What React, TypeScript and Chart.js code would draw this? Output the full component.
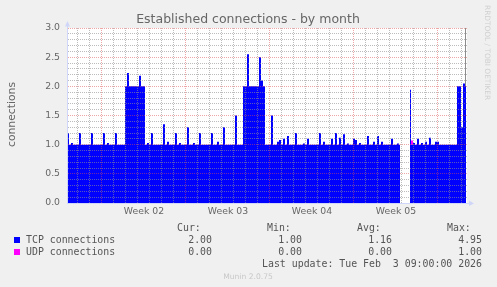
import { useEffect, useRef } from 'react';
import { Chart, registerables } from 'chart.js';

Chart.register(...registerables);

const chartTitle = 'Established connections - by month';
const yAxisTitle = 'connections';
const sideText = 'RRDTOOL / TOBI OETIKER';
const footerText = 'Munin 2.0.75';
const lastUpdate = 'Last update: Tue Feb  3 09:00:00 2026';

// one sample every 4 hours, 200 samples
const hoursPerSample = 4;
const tcpValues: (number | null)[] = [
  1.2, 1, 1.03, 1, 1, 1, 1.2, 1, 1, 1, 1, 1, 1.2, 1, 1, 1, 1, 1, 1.2, 1,
  1.03, 1, 1, 1, 1.2, 1, 1, 1, 1, 2, 2.23, 2, 2, 2, 2, 2, 2.18, 2, 2, 1,
  1.03, 1, 1.2, 1, 1, 1, 1, 1, 1.35, 1, 1.05, 1, 1, 1, 1.2, 1, 1.03, 1, 1, 1,
  1.3, 1, 1, 1.03, 1, 1, 1.2, 1, 1, 1, 1, 1, 1.2, 1, 1, 1.05, 1, 1, 1.3, 1,
  1, 1, 1, 1, 1.5, 1, 1, 1, 2, 2, 2.55, 2, 2, 2, 2, 2, 2.5, 2.1, 2, 1,
  1, 1, 1.5, 1, 1, 1.05, 1.08, 1, 1.1, 1, 1.15, 1, 1, 1, 1.2, 1, 1, 1, 1.02, 1,
  1.1, 1, 1, 1, 1, 1, 1.2, 1, 1.05, 1, 1, 1, 1.1, 1, 1.2, 1, 1.12, 1, 1.18, 1,
  1.02, 1, 1, 1.1, 1.08, 1, 1.03, 1, 1, 1, 1.15, 1, 1, 1.05, 1, 1.15, 1, 1.05, 1, 1,
  1, 1, 1.1, 1, 1, 1.02, 1, null, null, null, null, 1.94, 1, 1.03, 1, 1.1, 1, 1.03, 1, 1.05,
  1, 1.12, 1, 1, 1.05, 1.05, 1, 1, 1, 1, 1, 1, 1, 1, 1, 2, 2, 1.3, 2.05, 2,
];
const udpValues: (number | null)[] = [
  0, 0, 0, 0, 0, 0, 0, 0, 0, 0, 0, 0, 0, 0, 0, 0, 0, 0, 0, 0,
  0, 0, 0, 0, 0, 0, 0, 0, 0, 0, 0, 0, 0, 0, 0, 0, 0, 0, 0, 0,
  0, 0, 0, 0, 0, 0, 0, 0, 0, 0, 0, 0, 0, 0, 0, 0, 0, 0, 0, 0,
  0, 0, 0, 0, 0, 0, 0, 0, 0, 0, 0, 0, 0, 0, 0, 0, 0, 0, 0, 0,
  0, 0, 0, 0, 0, 0, 0, 0, 0, 0, 0, 0, 0, 0, 0, 0, 0, 0, 0, 0,
  0, 0, 0, 0, 0, 0, 0, 0, 0, 0, 0, 0, 0, 0, 0, 0, 0, 0, 0, 0,
  0, 0, 0, 0, 0, 0, 0, 0, 0, 0, 0, 0, 0, 0, 0, 0, 0, 0, 0, 0,
  0, 0, 0, 0, 0, 0, 0, 0, 0, 0, 0, 0, 0, 0, 0, 0, 0, 0, 0, 0,
  0, 0, 0, 0, 0, 0, 0, null, null, null, null, 0, 0.07, 0, 0, 0, 0, 0, 0, 0,
  0, 0, 0, 0, 0, 0, 0, 0, 0, 0, 0, 0, 0, 0, 0, 0, 0, 0, 0, 0,
];

const seriesNames = ['TCP connections', 'UDP connections'];
const seriesColors = ['#0000ff', '#ff00ff'];
const statHeaders = ['Cur:', 'Min:', 'Avg:', 'Max:'];
const curValues = ['2.00', '0.00'];
const minValues = ['1.00', '0.00'];
const avgValues = ['1.16', '0.00'];
const maxValues = ['4.95', '1.00'];

const weekLabels = ['Week 02', 'Week 03', 'Week 04', 'Week 05'];
const weekLabelHours = [154, 322, 490, 658];
const weekStartHours = [68, 236, 404, 572, 740];
const firstDayLineHour = 20;
const xMaxHours = 800;
const yMax = 3;

const FONT = '#666666';
const AXIS = '#cfd6f8';
const GRID = 'rgba(143,143,143,0.6)';
const MGRID = 'rgba(222,79,79,0.5)';

export default function App() {
  const ref = useRef<HTMLCanvasElement | null>(null);

  useEffect(() => {
    document.body.style.margin = '0';
    document.body.style.background = '#f0f0f0';
    const canvas = ref.current;
    if (!canvas) return;

    const tcpData = tcpValues.map((v, i) => ({ x: i * hoursPerSample + 2, y: v }));
    const udpData = udpValues.map((v, i) => ({ x: i * hoursPerSample + 2, y: v }));

    const decor = {
      id: 'decor',
      beforeDraw(chart: any) {
        const { ctx, chartArea: a } = chart;
        ctx.save();
        ctx.fillStyle = '#f0f0f0';
        ctx.fillRect(0, 0, chart.width, chart.height);
        ctx.fillStyle = '#ffffff';
        ctx.fillRect(a.left, a.top, a.right - a.left, a.bottom - a.top);
        ctx.restore();
      },
      beforeDatasetsDraw(chart: any) {
        const { ctx, chartArea: a } = chart;
        ctx.save();
        ctx.strokeStyle = '#8c8c8c';
        ctx.lineWidth = 1;
        ctx.beginPath();
        ctx.moveTo(a.right - 1.5, a.top);
        ctx.lineTo(a.right - 1.5, a.bottom);
        ctx.stroke();
        ctx.restore();
      },
      afterDraw(chart: any) {
        const { ctx, chartArea: a } = chart;
        ctx.save();
        // axis extensions + arrows
        ctx.strokeStyle = AXIS;
        ctx.fillStyle = AXIS;
        ctx.lineWidth = 1;
        ctx.beginPath();
        ctx.moveTo(a.left + 0.5, a.top);
        ctx.lineTo(a.left + 0.5, a.top - 3);
        ctx.moveTo(a.right, a.bottom + 0.5);
        ctx.lineTo(a.right + 3, a.bottom + 0.5);
        ctx.stroke();
        ctx.beginPath();
        ctx.moveTo(a.left - 2, a.top - 1.5);
        ctx.lineTo(a.left + 3, a.top - 1.5);
        ctx.lineTo(a.left + 0.5, a.top - 7);
        ctx.closePath();
        ctx.fill();
        ctx.beginPath();
        ctx.moveTo(a.right + 2, a.bottom - 2.5);
        ctx.lineTo(a.right + 2, a.bottom + 3);
        ctx.lineTo(a.right + 7, a.bottom + 0.5);
        ctx.closePath();
        ctx.fill();

        // title
        ctx.fillStyle = FONT;
        ctx.font = '12.5px "DejaVu Sans"';
        ctx.textAlign = 'center';
        ctx.textBaseline = 'alphabetic';
        ctx.fillText(chartTitle, 248, 23);

        // y axis title
        ctx.save();
        ctx.translate(15, 114.5);
        ctx.rotate(-Math.PI / 2);
        ctx.font = '10.8px "DejaVu Sans"';
        ctx.textAlign = 'center';
        ctx.fillText(yAxisTitle, 0, 0);
        ctx.restore();

        // side text
        ctx.save();
        ctx.translate(485, 5);
        ctx.rotate(Math.PI / 2);
        ctx.font = '7.4px "DejaVu Sans"';
        ctx.fillStyle = '#d0d0d0';
        ctx.textAlign = 'left';
        ctx.fillText(sideText, 0, 0);
        ctx.restore();

        // legend
        ctx.font = '9.9px "DejaVu Sans Mono"';
        ctx.fillStyle = '#555555';
        ctx.textAlign = 'left';
        const headerX = [177, 267, 357, 447];
        statHeaders.forEach((h, k) => ctx.fillText(h, headerX[k], 231));
        const valueX = [212, 302, 392, 482];
        const rowsY = [243, 255];
        seriesNames.forEach((name, r) => {
          ctx.fillStyle = seriesColors[r];
          ctx.fillRect(14, rowsY[r] - 6, 6, 6);
          ctx.fillStyle = '#555555';
          ctx.textAlign = 'left';
          ctx.fillText(name, 26, rowsY[r]);
          ctx.textAlign = 'right';
          const vals = [curValues[r], minValues[r], avgValues[r], maxValues[r]];
          vals.forEach((v, k) => ctx.fillText(v, valueX[k], rowsY[r]));
        });
        ctx.textAlign = 'right';
        ctx.fillText(lastUpdate, 482, 267);

        ctx.font = '7.6px "DejaVu Sans"';
        ctx.fillStyle = '#c8c8c8';
        ctx.textAlign = 'center';
        ctx.fillText(footerText, 248, 279);
        ctx.restore();
      },
    };

    const chart = new Chart(canvas, {
      type: 'line',
      data: {
        datasets: [
          {
            label: seriesNames[0],
            data: tcpData as any,
            backgroundColor: seriesColors[0],
            borderColor: seriesColors[0],
            borderWidth: 0,
            pointRadius: 0,
            fill: 'origin',
            stepped: 'middle',
            spanGaps: false,
          },
          {
            label: seriesNames[1],
            data: udpData as any,
            backgroundColor: seriesColors[1],
            borderColor: seriesColors[1],
            borderWidth: 0,
            pointRadius: 0,
            fill: '-1',
            stepped: 'middle',
            spanGaps: false,
          },
        ],
      },
      options: {
        responsive: false,
        animation: false,
        devicePixelRatio: 1,
        events: [],
        layout: { padding: { left: 0, top: 28, right: 30, bottom: 0 } },
        plugins: {
          legend: { display: false },
          title: { display: false },
          tooltip: { enabled: false },
        },
        scales: {
          x: {
            type: 'linear',
            min: 0,
            max: xMaxHours,
            afterFit: (s: any) => { s.height = 84; },
            afterBuildTicks: (s: any) => {
              const t: { value: number }[] = [];
              for (let h = firstDayLineHour; h < xMaxHours; h += 24) t.push({ value: h });
              weekLabelHours.forEach((h) => t.push({ value: h }));
              t.sort((p, q) => p.value - q.value);
              s.ticks = t;
            },
            grid: {
              z: 1,
              drawTicks: false,
              color: (c: any) => {
                const v = c.tick ? c.tick.value : -1;
                if (weekLabelHours.includes(v)) return 'rgba(0,0,0,0)';
                if (weekStartHours.includes(v)) return MGRID;
                return GRID;
              },
            },
            border: { display: true, color: AXIS, dash: [1, 1], z: 2 },
            ticks: {
              autoSkip: false,
              maxRotation: 0,
              padding: 3,
              color: FONT,
              font: { family: 'DejaVu Sans', size: 9.3 },
              callback: (v: any) => {
                const k = weekLabelHours.indexOf(Number(v));
                return k >= 0 ? weekLabels[k] : '';
              },
            },
          },
          y: {
            type: 'linear',
            stacked: true,
            min: 0,
            max: yMax,
            afterFit: (s: any) => { s.width = 67; },
            afterBuildTicks: (s: any) => {
              const t: { value: number }[] = [];
              for (let k = 0; k <= yMax * 10; k++) t.push({ value: k / 10 });
              s.ticks = t;
            },
            grid: {
              z: 1,
              drawTicks: false,
              color: (c: any) => {
                const v = c.tick ? c.tick.value : 0;
                if (v < 1e-6) return 'rgba(0,0,0,0)';
                const isMajor = Math.abs(v * 2 - Math.round(v * 2)) < 1e-6;
                return isMajor ? MGRID : GRID;
              },
            },
            border: { display: true, color: AXIS, dash: [1, 1], z: 2 },
            ticks: {
              autoSkip: false,
              padding: 7,
              color: FONT,
              font: { family: 'DejaVu Sans', size: 9.3 },
              callback: (v: any) => {
                const n = Number(v);
                const isMajor = Math.abs(n * 2 - Math.round(n * 2)) < 1e-6;
                return isMajor ? n.toFixed(1) : '';
              },
            },
          },
        },
      },
      plugins: [decor],
    });

    return () => chart.destroy();
  }, []);

  return <canvas ref={ref} width={497} height={287} style={{ display: 'block' }} />;
}
